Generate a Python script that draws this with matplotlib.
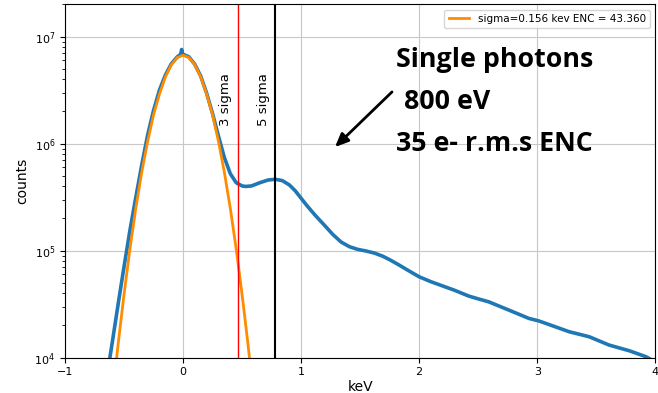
import numpy as np
import matplotlib
matplotlib.use("Agg")
import matplotlib.pyplot as plt

kev = [-0.65, -0.62, -0.60, -0.55, -0.50, -0.45, -0.40, -0.35, -0.30, -0.25,
       -0.20, -0.15, -0.10, -0.05, -0.02, -0.012, -0.008, -0.004, 0.0, 0.05,
       0.10, 0.15, 0.20, 0.25, 0.30, 0.35, 0.40, 0.45, 0.50, 0.53,
       0.58, 0.65, 0.72, 0.78, 0.84, 0.90, 0.95, 1.00, 1.05, 1.12,
       1.20, 1.27, 1.34, 1.41, 1.48, 1.55, 1.62, 1.69, 1.76, 1.83,
       1.90, 2.00, 2.10, 2.20, 2.30, 2.42, 2.50, 2.59, 2.76, 2.93,
       3.01, 3.10, 3.27, 3.44, 3.61, 3.78, 3.92, 3.97]
log_counts = [3.78, 4.00, 4.14, 4.50, 4.85, 5.19, 5.50, 5.80, 6.08, 6.31,
              6.50, 6.64, 6.745, 6.81, 6.835, 6.88, 6.86, 6.835, 6.835, 6.81,
              6.74, 6.63, 6.47, 6.28, 6.07, 5.87, 5.72, 5.635, 5.605, 5.60,
              5.605, 5.635, 5.66, 5.667, 5.655, 5.615, 5.56, 5.49, 5.42, 5.33,
              5.235, 5.15, 5.08, 5.037, 5.012, 4.997, 4.978, 4.949, 4.91, 4.866,
              4.82, 4.756, 4.71, 4.67, 4.63, 4.576, 4.55, 4.522, 4.445, 4.367,
              4.345, 4.31, 4.243, 4.196, 4.118, 4.065, 4.01, 3.98]

# gaussian fit of the noise peak
fit_kev = [-0.60, -0.55, -0.50, -0.45, -0.40, -0.35, -0.30, -0.25, -0.20, -0.15,
           -0.10, -0.05, 0.0, 0.05, 0.10, 0.15, 0.20, 0.25, 0.30, 0.35,
           0.40, 0.45, 0.50, 0.55, 0.60]
fit_counts = [4.1e3, 1.34e4, 3.9e4, 1.04e5, 2.5e5, 5.4e5, 1.05e6, 1.86e6, 2.9e6, 4.2e6,
              5.45e6, 6.37e6, 6.7e6, 6.37e6, 5.45e6, 4.2e6, 2.9e6, 1.86e6, 1.05e6, 5.4e5,
              2.5e5, 1.04e5, 3.9e4, 1.34e4, 4.1e3]

sigma = 0.156
enc = 43.360

counts = 10 ** np.array(log_counts)

fig = plt.figure(figsize=(6.58, 3.93), dpi=100)
ax = fig.add_axes([0.0988, 0.0898, 0.897, 0.899])

ax.plot(kev, counts, color="#1f77b4", linewidth=2.6)
ax.plot(fit_kev, fit_counts, color="darkorange", linewidth=2,
        label=f"sigma={sigma:.3f} kev ENC = {enc:.3f}")

ax.axvline(3 * sigma, color="red", linewidth=1)
ax.axvline(5 * sigma, color="black", linewidth=1.5)
ax.text(3 * sigma - 0.055, 2.6e6, "3 sigma", rotation=90, ha="right",
        va="center", fontsize=9.5)
ax.text(5 * sigma - 0.045, 2.6e6, "5 sigma", rotation=90, ha="right",
        va="center", fontsize=9.5)

ax.set_yscale("log")
ax.set_xlim(-1, 4)
ax.set_ylim(1e4, 2e7)
ax.grid(True, which="major", color="#c8c8c8")
ax.tick_params(labelsize=8)
ax.set_xlabel("keV", fontsize=10, labelpad=2)
ax.set_ylabel("counts", fontsize=10)
ax.legend(loc="upper right", fontsize=7.5)

note = dict(fontsize=19.3, fontweight="bold", family="Open Sans", va="center",
            ha="left", transform=fig.transFigure)
fig.text(396 / 658, 1 - 60 / 393, "Single photons", **note)
fig.text(404 / 658, 1 - 102 / 393, "800 eV", **note)
fig.text(396 / 658, 1 - 144 / 393, "35 e- r.m.s ENC", **note)
ax.annotate("", xy=(333 / 658, 1 - 149 / 393), xycoords="figure fraction",
            xytext=(394 / 658, 1 - 90 / 393), textcoords="figure fraction",
            arrowprops=dict(arrowstyle="-|>,head_length=0.8,head_width=0.35",
                            color="black", lw=2))

fig.savefig("out.png", dpi=100)
